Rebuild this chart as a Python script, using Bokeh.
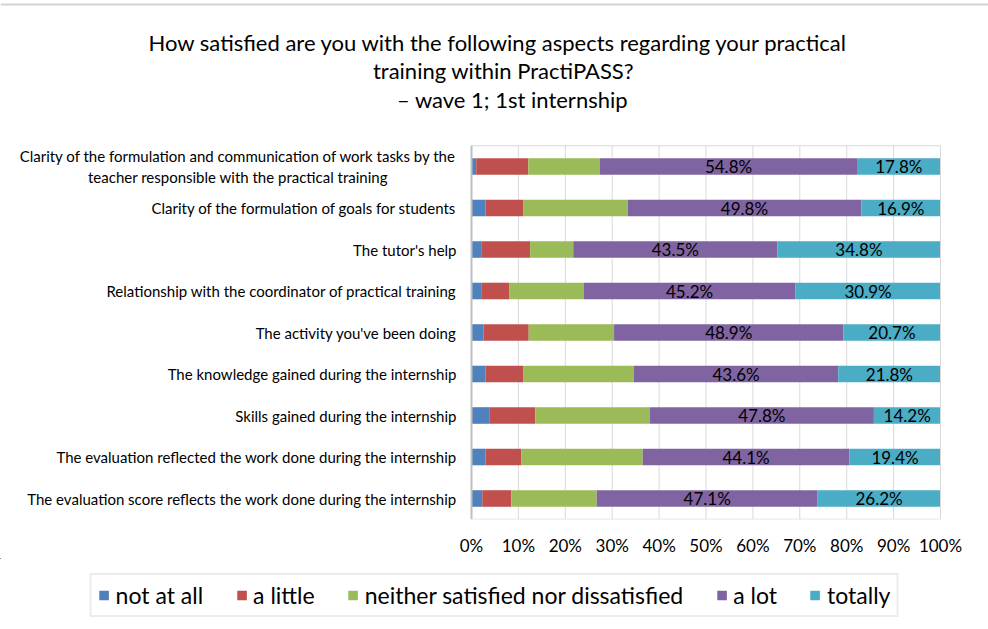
from bokeh.plotting import figure
from bokeh.layouts import column
from bokeh.models import (ColumnDataSource, Range1d, FixedTicker, Legend, LegendItem)
from bokeh.core.properties import value
from bokeh.embed import file_html
from bokeh.resources import INLINE

categories = [
    "Clarity of the formulation and communication of work tasks by the\nteacher responsible with the practical training",
    "Clarity of the formulation of goals for students",
    "The tutor's help",
    "Relationship with the coordinator of practical training",
    "The activity you've been doing",
    "The knowledge gained during the internship",
    "Skills gained during the internship",
    "The evaluation reflected the work done during the internship",
    "The evaluation score reflects the work done during the internship",
]
not_at_all = [1.0, 3.0, 2.2, 2.2, 2.6, 3.0, 3.9, 3.0, 2.3]
a_little = [11.1, 8.0, 10.3, 5.9, 9.6, 8.0, 9.7, 7.6, 6.2]
neither = [15.3, 22.3, 9.2, 15.8, 18.2, 23.6, 24.4, 25.9, 18.2]
a_lot = [54.8, 49.8, 43.5, 45.2, 48.9, 43.6, 47.8, 44.1, 47.1]
totally = [17.8, 16.9, 34.8, 30.9, 20.7, 21.8, 14.2, 19.4, 26.2]

series_keys = ["not_at_all", "a_little", "neither", "a_lot", "totally"]
series_names = ["not at all", "a little", "neither satisfied nor dissatisfied", "a lot", "totally"]
colors = ["#4F81BD", "#C0504D", "#9BBB59", "#8064A2", "#4BACC6"]

x_ticks = [0, 10, 20, 30, 40, 50, 60, 70, 80, 90, 100]
x_tick_labels = ["0%", "10%", "20%", "30%", "40%", "50%", "60%", "70%", "80%", "90%", "100%"]

title_lines = ["How satisfied are you with the following aspects regarding your practical",
               "training within PractiPASS?",
               "\u2013 wave 1; 1st internship"]

FONT = "Lato"

# ---- page geometry (pixels) ----
W, H = 988, 629
X0PX, X100PX = 471, 940          # where 0% and 100% fall
ROW0PX, ROWPX = 166, 41.5        # centre of first row, row pitch
FRAME_BOTTOM = 519               # x axis position
AXIS_H = 36                      # approx. height of the x axis panel
LEGEND_H = H - FRAME_BOTTOM - AXIS_H
PXU = (X100PX - X0PX) / 100.0    # pixels per percent


def ux(px):   # page x pixel -> data x
    return (px - X0PX) / PXU


def uy(py):   # page y pixel -> data y (row units)
    return (py - ROW0PX) / ROWPX


n = len(categories)
rows = list(range(n))

source = ColumnDataSource(dict(row=rows, cat=categories, not_at_all=not_at_all,
                               a_little=a_little, neither=neither, a_lot=a_lot,
                               totally=totally))

p = figure(frame_width=W, frame_height=FRAME_BOTTOM,
           x_range=Range1d(ux(0), ux(W)),
           y_range=Range1d(uy(FRAME_BOTTOM), uy(0)),
           output_backend="svg", toolbar_location=None,
           min_border_left=0, min_border_right=0, min_border_top=0,
           min_border_bottom=0, y_axis_location=None)
p.background_fill_color = "white"
p.border_fill_color = "white"
p.outline_line_color = None
p.grid.visible = False

# vertical grid lines over the plot area
p.segment(x0=x_ticks, x1=x_ticks, y0=[-0.5] * len(x_ticks), y1=[n - 0.5] * len(x_ticks),
          line_color="#d9d9d9", line_width=1)

renderers = p.hbar_stack(series_keys, y="row", height=0.4, color=colors, source=source,
                         line_width=0)

# plot-area border and category axis line
p.quad(left=[x_ticks[0]], right=[x_ticks[-1]], top=[-0.5], bottom=[n - 0.5],
       fill_color=None, line_color="#d9d9d9", line_width=1)
p.segment(x0=[x_ticks[0]], x1=[x_ticks[0]], y0=[-0.5], y1=[n - 0.5],
          line_color="#bfbfbf", line_width=2)

# category labels (block right-anchored, lines centred within the block)
p.text(x=[ux(456)] * n, y=rows, text=categories, anchor=value("center_right"),
       text_align="center", text_baseline="middle",
       text_font=value(FONT), text_font_size="15px", text_color="black",
       text_line_height=1.2)

# data labels for "a lot" and "totally"
lab_x, lab_y, lab_t = [], [], []
for i in rows:
    base = not_at_all[i] + a_little[i] + neither[i]
    lab_x.append(base + a_lot[i] / 2)
    lab_y.append(i)
    lab_t.append(f"{a_lot[i]:.1f}%")
    lab_x.append(base + a_lot[i] + totally[i] / 2)
    lab_y.append(i)
    lab_t.append(f"{totally[i]:.1f}%")
p.text(x=lab_x, y=lab_y, text=lab_t, text_align="center", text_baseline="middle",
       text_font=value(FONT), text_font_size="17px", text_color="black")

# title
title_cx = [498, 503, 512]
title_cy = [42, 70, 99]
p.text(x=[ux(v) for v in title_cx], y=[uy(v) for v in title_cy], text=title_lines,
       text_align="center", text_baseline="middle", text_font=value(FONT),
       text_font_size="22px", text_color="black")

# chart border (top edge)
p.segment(x0=[ux(0)], x1=[ux(W)], y0=[uy(4)], y1=[uy(4)], line_color="#d4d4d4", line_width=2)

# x axis
xa = p.xaxis[0]
xa.ticker = FixedTicker(ticks=x_ticks)
xa.major_label_overrides = dict(zip(x_ticks, x_tick_labels))
xa.axis_line_color = None
xa.major_tick_line_color = None
xa.minor_tick_line_color = None
xa.major_tick_out = 0
xa.major_tick_in = 0
xa.major_label_standoff = 15
xa.major_label_text_font = FONT
xa.major_label_text_font_size = "17px"
xa.major_label_text_color = "black"

# ---- legend strip (same series, kept fully out of view; only the legend shows) ----
lp = figure(width=W, height=LEGEND_H, x_range=Range1d(1000, 1001), y_range=Range1d(-100, -99),
            output_backend="svg", toolbar_location=None, min_border=0,
            x_axis_location=None, y_axis_location=None)
lp.outline_line_color = None
lp.grid.visible = False
lp.background_fill_color = "white"
lp.border_fill_color = "white"
swatches = lp.hbar_stack(series_keys, y="row", height=0.4, color=colors, source=source,
                         line_width=0)

legend = Legend(items=[LegendItem(label=nm, renderers=[r]) for nm, r in zip(series_names, swatches)],
                orientation="horizontal", location="center",
                border_line_color="#d9d9d9", border_line_width=2,
                background_fill_color="white",
                label_text_font=FONT, label_text_font_size="23px", label_text_color="black",
                glyph_width=12, glyph_height=12, label_standoff=6, spacing=32,
                padding=6, margin=0)
lp.add_layout(legend, "center")

layout = column(p, lp, spacing=0)
open("out.html", "w").write(file_html(layout, INLINE))
